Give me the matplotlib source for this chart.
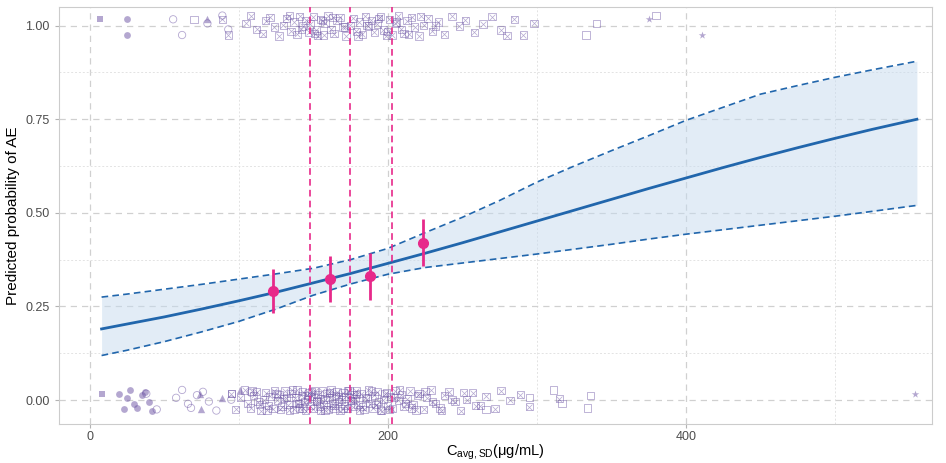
import matplotlib.pyplot as plt
import numpy as np

plt.rcParams['font.family'] = ['Liberation Sans', 'DejaVu Sans']

# fitted curve
conc = [8, 25, 50, 75, 100, 125, 150, 175, 200, 225, 250, 275, 300, 325,
        350, 375, 400, 425, 450, 475, 500, 525, 555]
prob = [0.190, 0.203, 0.222, 0.243, 0.265, 0.288, 0.313, 0.338, 0.365, 0.392, 0.420, 0.449,
        0.478, 0.507, 0.536, 0.565, 0.593, 0.621, 0.648, 0.674, 0.699, 0.723, 0.750]
lower = [0.119, 0.133, 0.156, 0.182, 0.210, 0.243, 0.280, 0.310, 0.336, 0.354, 0.366, 0.378,
         0.390, 0.403, 0.416, 0.430, 0.443, 0.455, 0.467, 0.479, 0.491, 0.504, 0.520]
upper = [0.275, 0.283, 0.296, 0.309, 0.323, 0.337, 0.352, 0.375, 0.405, 0.447, 0.488, 0.533,
         0.582, 0.625, 0.666, 0.706, 0.747, 0.782, 0.817, 0.840, 0.862, 0.882, 0.905]

# observed proportions by quartile
bin_x = [122.8, 161.0, 188.0, 223.5]
bin_p = [0.291, 0.324, 0.331, 0.420]
bin_lo = [0.233, 0.262, 0.267, 0.357]
bin_hi = [0.349, 0.386, 0.392, 0.484]
quartile_cuts = [147.6, 174.5, 202.7]

# individual observations (x by marker type)
sqx_0 = [95, 98, 101, 104, 106, 108, 110, 112, 113, 115, 117, 118, 120, 121, 123, 124, 126, 127,
         129, 130, 131, 133, 134, 135, 137, 138, 139, 140, 141, 142, 143, 144, 145, 146, 147, 148,
         149, 150, 151, 152, 153, 154, 155, 156, 157, 158, 159, 160, 161, 162, 163, 164, 165, 166,
         167, 168, 169, 170, 171, 172, 173, 174, 175, 176, 177, 178, 179, 180, 181, 182, 184, 185,
         187, 188, 190, 191, 193, 194, 196, 197, 199, 200, 202, 203, 205, 207, 209, 211, 213, 215,
         217, 219, 221, 224, 226, 229, 232, 235, 238, 241, 245, 249, 253, 257, 262, 266, 272, 276,
         282, 289, 295, 315,
         109, 114, 119, 125, 128, 132, 136, 139, 143, 146, 149, 152, 155, 158, 161, 164, 167, 170,
         173, 176, 179, 183, 186, 189, 192, 195, 198, 201, 204, 208, 212, 216, 220, 225, 230, 236,
         243, 251, 259]
sqx_1 = [89, 93, 105, 108, 112, 116, 118, 121, 124, 127, 130, 132, 135, 137, 139, 141, 143, 145,
         147, 148, 150, 152, 153, 155, 157, 158, 160, 162, 164, 166, 168, 170, 172, 175, 177, 179,
         181, 183, 185, 187, 189, 191, 193, 195, 197, 199, 201, 203, 205, 207, 209, 211, 213, 216,
         218, 221, 224, 227, 230, 234, 238, 243, 248, 252, 258, 264, 270, 276, 280, 285, 291, 298,
         134, 142, 151, 156, 163, 171, 180, 186, 194, 200, 206, 214, 222, 232]
osq_0 = [95, 266, 295, 311, 317, 334, 336]
osq_1 = [70, 333, 340, 380]
fcirc_0 = [20, 23, 25, 27, 30, 32, 35, 37, 40, 42]
fcirc_1 = [25, 25]
ocirc_0 = [38, 45, 58, 62, 66, 68, 72, 76, 80, 85, 95, 108]
ocirc_1 = [56, 62, 79, 89, 93]
tri_0 = [74, 75, 89, 101]
tri_1 = [79]
fsq_0 = [8]
fsq_1 = [7]
star_0 = [554]
star_1 = [375, 411]

jit = [0.017, -0.025, 0.006, 0.027, -0.010, -0.021, 0.013, 0.022, -0.004, -0.028, 0.001,
       0.020, -0.015, 0.010, -0.023, 0.025, -0.001, 0.014, -0.018, 0.004, 0.024, -0.012, -0.027]

def yj(xs, base):
    return [base + jit[i % len(jit)] for i in range(len(xs))]

pc = '#6a51a3'
al = 0.5
fig, ax = plt.subplots(figsize=(9.46, 4.63), dpi=100)
fig.subplots_adjust(left=0.062, right=0.985, top=0.985, bottom=0.085)

for base, sq, osq, fc, oc, tr, fs, st in [
        (0.0, sqx_0, osq_0, fcirc_0, ocirc_0, tri_0, fsq_0, star_0),
        (1.0, sqx_1, osq_1, fcirc_1, ocirc_1, tri_1, fsq_1, star_1)]:
    ys = yj(sq, base)
    ax.scatter(sq, ys, marker='s', s=28, facecolors='none', edgecolors=pc, linewidths=0.6, alpha=al, zorder=2)
    ax.scatter(sq, ys, marker='x', s=18, color=pc, linewidths=0.5, alpha=al, zorder=2)
    ax.scatter(osq, yj(osq, base), marker='s', s=28, facecolors='none', edgecolors=pc, linewidths=0.6, alpha=al, zorder=2)
    ax.scatter(fc, yj(fc, base), marker='o', s=24, color=pc, alpha=al, linewidths=0, zorder=2)
    ax.scatter(oc, yj(oc, base), marker='o', s=28, facecolors='none', edgecolors=pc, linewidths=0.6, alpha=al, zorder=2)
    ax.scatter(tr, yj(tr, base), marker='^', s=28, color=pc, alpha=al, linewidths=0, zorder=2)
    ax.scatter(fs, yj(fs, base), marker='s', s=24, color=pc, alpha=al, linewidths=0, zorder=2)
    ax.scatter(st, yj(st, base), marker='*', s=32, color=pc, alpha=al, linewidths=0, zorder=2)

blue = '#2166ac'
ax.fill_between(conc, lower, upper, color='#c6dbef', alpha=0.5, linewidth=0, zorder=1)
ax.plot(conc, upper, color=blue, lw=1.2, ls=(0, (4, 2.5)), zorder=3)
ax.plot(conc, lower, color=blue, lw=1.2, ls=(0, (4, 2.5)), zorder=3)
ax.plot(conc, prob, color=blue, lw=2, zorder=3)

mag = '#e7298a'
for q in quartile_cuts:
    ax.axvline(q, color=mag, lw=1.2, ls=(0, (4, 2.5)), zorder=3)
err = [np.array(bin_p) - np.array(bin_lo), np.array(bin_hi) - np.array(bin_p)]
ax.errorbar(bin_x, bin_p, yerr=err, fmt='o', color=mag, ms=7, elinewidth=2, capsize=0, zorder=4)

ax.set_xlim(-20.8, 565)
ax.set_ylim(-0.063, 1.05)
ax.set_xticks([0, 200, 400])
ax.set_xticks([100, 300, 500], minor=True)
ax.set_yticks([0, 0.25, 0.5, 0.75, 1.0])
ax.set_yticklabels(['0.00', '0.25', '0.50', '0.75', '1.00'])
ax.set_yticks([0.125, 0.375, 0.625, 0.875], minor=True)
ax.grid(which='major', color='#d0d0d0', ls=(0, (5, 4)), lw=0.9, zorder=0)
ax.grid(which='minor', color='#e3e3e3', ls=(0, (2, 2)), lw=0.7, zorder=0)
ax.set_axisbelow(True)
for s in ax.spines.values():
    s.set_color('#cccccc')
ax.tick_params(which='major', color='#b3b3b3', length=3, labelsize=9, labelcolor='#4d4d4d')
ax.tick_params(axis='x', which='major', pad=2)
ax.tick_params(which='minor', length=0)

ax.set_xlabel(r'$\mathregular{C_{avg,SD}}$(μg/mL)', fontsize=10.5, labelpad=0)
ax.set_ylabel('Predicted probability of AE', fontsize=11, labelpad=4)

fig.savefig('out.png', dpi=100)
